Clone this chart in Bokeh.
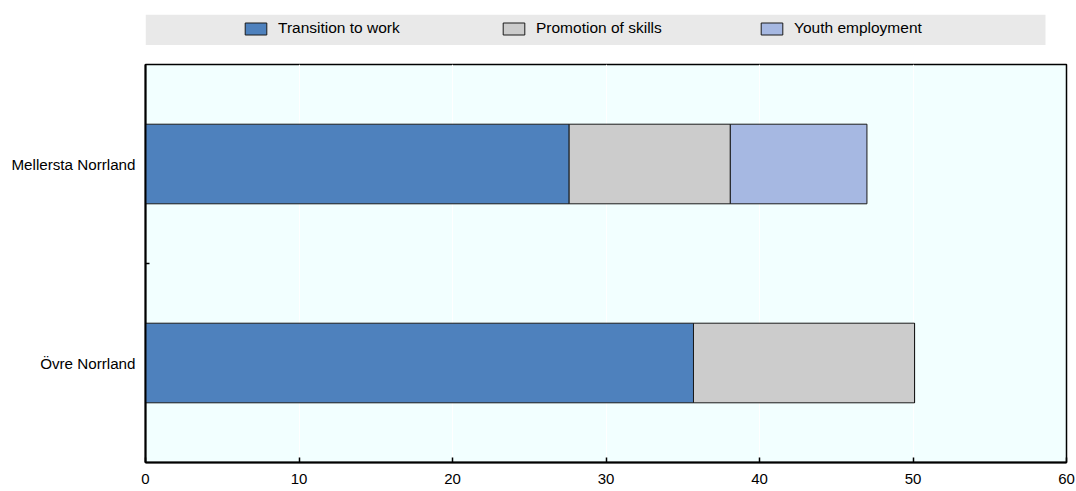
from bokeh.plotting import figure
from bokeh.layouts import column
from bokeh.models import (ColumnDataSource, Range1d, FixedTicker, Legend, LegendItem, BoxAnnotation)
from bokeh.embed import file_html
from bokeh.resources import INLINE

# ---- data ----
regions = ["Mellersta Norrland", "Övre Norrland"]
transition_to_work = [27.6, 35.7]
promotion_of_skills = [10.5, 14.4]
youth_employment = [8.9, 0.0]
series_names = ["Transition to work", "Promotion of skills", "Youth employment"]
colors = ["#4e81bd", "#cccccc", "#a6b8e2"]
x_ticks = [0, 10, 20, 30, 40, 50, 60]

FONT = "Liberation Sans"

n = len(regions)
ypos = [n - i - 0.5 for i in range(n)]
src = ColumnDataSource(dict(
    y=ypos,
    t=transition_to_work,
    p=promotion_of_skills,
    yo=youth_employment,
))

FRAME_W = 921
LEFT, RIGHT = 145, 9

# ---- main chart ----
p = figure(frame_width=FRAME_W, frame_height=398,
           x_range=Range1d(0, 60), y_range=Range1d(0, n),
           output_backend="svg", toolbar_location=None,
           min_border_left=LEFT, min_border_top=19, min_border_right=RIGHT, min_border_bottom=0,
           background_fill_color="#f2ffff", border_fill_color="white",
           outline_line_color="black", outline_line_width=1.5)

p.hbar_stack(["t", "p", "yo"], y="y", height=0.4, source=src,
             color=colors, line_color="#1a1a1a", line_width=1)

p.xaxis.ticker = FixedTicker(ticks=x_ticks)
p.xaxis.major_tick_in = 5
p.xaxis.major_tick_out = 0
p.xaxis.minor_tick_line_color = None
p.xaxis.major_label_standoff = 11
p.xaxis.major_label_text_font = FONT
p.xaxis.major_label_text_font_size = "15px"
p.xaxis.major_label_text_color = "black"
p.xaxis.axis_line_color = "black"
p.xaxis.axis_line_width = 2
p.xaxis.major_tick_line_color = "black"
p.xaxis.major_tick_line_width = 1.5

p.yaxis.ticker = FixedTicker(ticks=ypos, minor_ticks=[float(k) for k in range(1, n)])
p.yaxis.major_label_overrides = {y: r for y, r in zip(ypos, regions)}
p.yaxis.major_tick_in = 0
p.yaxis.major_tick_out = 0
p.yaxis.minor_tick_in = 4
p.yaxis.minor_tick_out = 0
p.yaxis.minor_tick_line_color = "black"
p.yaxis.minor_tick_line_width = 1.5
p.yaxis.major_label_standoff = 10
p.yaxis.major_label_text_font = FONT
p.yaxis.major_label_text_font_size = "15.2px"
p.yaxis.major_label_text_color = "black"
p.yaxis.axis_line_color = "black"
p.yaxis.axis_line_width = 2

p.xgrid.grid_line_color = "white"
p.xgrid.grid_line_width = 1
p.ygrid.grid_line_color = None

# ---- legend strip (its own small figure, same borders as the chart) ----
lg = figure(frame_width=FRAME_W, frame_height=31,
            x_range=Range1d(0, FRAME_W), y_range=Range1d(100, 101),
            x_axis_type=None, y_axis_type=None,
            output_backend="svg", toolbar_location=None,
            min_border_left=LEFT, min_border_right=RIGHT, min_border_top=14, min_border_bottom=0,
            background_fill_color="white", border_fill_color="white", outline_line_color=None)
lg.grid.visible = False
lg.add_layout(BoxAnnotation(left=0, right=900, fill_color="#e9e9e9", fill_alpha=1,
                            line_alpha=0, level="underlay"))
# legend swatches come from the same data (drawn outside lg's visible range)
lg_bars = lg.hbar_stack(["t", "p", "yo"], y="y", height=0.4, source=src,
                        color=colors, line_color="#1a1a1a", line_width=1)
items = [LegendItem(label=name, renderers=[r]) for name, r in zip(series_names, lg_bars)]
legend = Legend(items=items, orientation="horizontal", location=(97, 8),
                padding=0, margin=0, spacing=42, glyph_width=27, glyph_height=15,
                label_width=180, label_height=15, label_standoff=9,
                label_text_font=FONT, label_text_font_size="15.5px",
                label_text_color="black",
                background_fill_alpha=0, border_line_alpha=0)
lg.add_layout(legend)

layout = column(lg, p, spacing=0)

open("out.html", "w").write(file_html(layout, INLINE))
